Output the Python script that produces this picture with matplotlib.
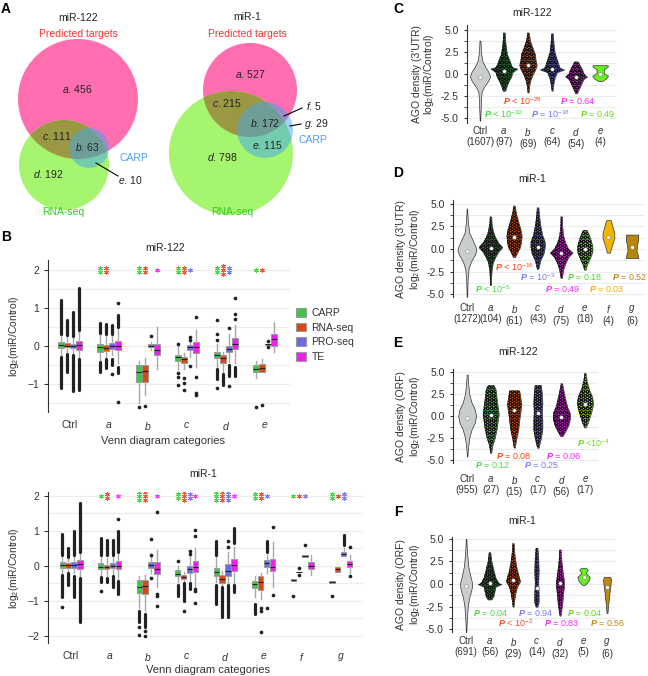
import numpy as np
import matplotlib
matplotlib.use('Agg')
import matplotlib.pyplot as plt
from matplotlib.patches import Circle, Patch

plt.rcParams['font.family'] = ['Liberation Sans', 'DejaVu Sans']
plt.rcParams['mathtext.fontset'] = 'custom'
plt.rcParams['mathtext.rm'] = 'Liberation Sans'
plt.rcParams['mathtext.it'] = 'Liberation Sans:italic'
plt.rcParams['mathtext.bf'] = 'Liberation Sans:bold'
plt.rcParams['mathtext.bfit'] = 'Liberation Sans:bold:italic'
plt.rcParams['hatch.linewidth'] = 0.7

# ---------------- data ----------------
venn122_cats = ['a', 'b', 'c', 'd', 'e']
venn122_counts = [456, 63, 111, 192, 10]
venn1_cats = ['a', 'b', 'c', 'd', 'e', 'f', 'g']
venn1_counts = [527, 172, 215, 798, 115, 5, 29]

series = ['CARP', 'RNA-seq', 'PRO-seq', 'TE']
box_colors = ['#3ec54a', '#d9480f', '#6a6ae8', '#f01ef0']
star_colors = ['#4bd94b', '#f05a3c', '#8080ff', '#ff40ff']

# miR-122 boxplots: rows = Ctrl,a..e ; cols = CARP, RNA-seq, PRO-seq, TE
b122_cats = ['Ctrl', 'a', 'b', 'c', 'd', 'e']
b122_med = [[0.02, 0.01, 0.0, 0.02], [-0.03, -0.05, 0.0, 0.0], [-0.68, -0.65, 0.0, -0.1],
            [-0.3, -0.35, -0.03, -0.03], [-0.23, -0.33, -0.08, 0.05], [-0.6, -0.57, 0.04, 0.17]]
b122_q1 = [[-0.06, -0.04, -0.05, -0.1], [-0.15, -0.13, -0.07, -0.12], [-0.95, -0.95, -0.04, -0.25],
           [-0.4, -0.45, -0.1, -0.2], [-0.32, -0.45, -0.17, -0.08], [-0.7, -0.7, 0.03, 0.0]]
b122_q3 = [[0.1, 0.07, 0.06, 0.12], [0.05, 0.03, 0.07, 0.13], [-0.5, -0.5, 0.05, 0.05],
           [-0.25, -0.28, 0.02, 0.1], [-0.15, -0.25, 0.0, 0.2], [-0.5, -0.47, 0.05, 0.32]]
b122_lo = [[-0.28, -0.18, -0.2, -0.3], [-0.38, -0.3, -0.25, -0.45], [-1.5, -1.3, -0.1, -0.6],
           [-0.6, -0.6, -0.3, -0.55], [-0.55, -0.7, -0.42, -0.45], [-0.85, -0.7, 0.02, -0.17]]
b122_hi = [[0.3, 0.25, 0.22, 0.38], [0.3, 0.28, 0.28, 0.45], [-0.4, -0.32, 0.1, 0.5],
           [0.05, -0.2, 0.2, 0.42], [0.05, -0.15, 0.3, 0.55], [-0.4, -0.35, 0.06, 0.62]]
# outliers: single values, or (low, high) for dense runs of points
b122_out = [
    [[(0.32, 1.22), (-1.12, -0.3)], [(0.28, 0.68), (-0.7, -0.22)], [(0.25, 0.88), (-1.2, -0.25)], [(0.42, 1.52), (-1.17, -0.35)]],
    [[(0.35, 0.6), (-0.42, -0.7)], [(0.32, 0.57), (-0.35, -0.57)], [(0.32, 0.55), (-0.35, -0.5), -0.75], [(0.5, 0.8), 1.13, (-0.55, -0.72), -1.48]],
    [[-1.6], [-1.57], [0.25], []],
    [[0.05, -0.72, -0.82, -1.03], [-0.85, -0.97, -1.15], [0.23, 0.15, -0.52], [0.75, -0.83, -1.25, -1.28]],
    [[0.67, 0.3, 0.15, (-0.62, -0.88), -1.1], [(-0.75, -1.03)], [0.46, (-0.5, -0.78), -1.05], [0.72, 0.85, 1.25, (-0.55, -0.78)]],
    [[-1.6], [-1.55], [0.13, -0.03], []],
]
b122_stars = [[0, 0, 0, 0], [2, 2, 0, 0], [2, 2, 0, 1], [2, 2, 1, 0], [2, 3, 2, 0], [1, 1, 0, 0]]

# miR-1 boxplots
b1_cats = ['Ctrl', 'a', 'b', 'c', 'd', 'e', 'f', 'g']
b1_med = [[0.03, 0.02, 0.02, 0.05], [-0.02, -0.03, 0.0, 0.0], [-0.6, -0.57, 0.02, -0.08], [-0.22, -0.32, -0.1, -0.02],
          [-0.17, -0.38, -0.15, 0.02], [-0.52, -0.47, 0.07, -0.02], [-0.4, -0.17, 0.28, 0.0], [-0.46, -0.1, 0.33, 0.06]]
b1_q1 = [[-0.05, -0.05, -0.05, -0.1], [-0.1, -0.1, -0.05, -0.1], [-0.77, -0.8, -0.05, -0.23], [-0.3, -0.38, -0.2, -0.18],
         [-0.3, -0.48, -0.3, -0.15], [-0.62, -0.68, -0.02, -0.15], [-0.42, -0.18, 0.26, -0.08], [-0.5, -0.17, 0.28, -0.02]]
b1_q3 = [[0.1, 0.07, 0.1, 0.17], [0.07, 0.03, 0.07, 0.13], [-0.4, -0.4, 0.1, 0.1], [-0.13, -0.25, 0.0, 0.13],
         [-0.05, -0.27, 0.05, 0.2], [-0.42, -0.3, 0.17, 0.2], [-0.38, -0.16, 0.3, 0.1], [-0.42, -0.03, 0.4, 0.15]]
b1_lo = [[-0.22, -0.15, -0.2, -0.3], [-0.28, -0.3, -0.25, -0.38], [-1.2, -1.3, -0.2, -0.6], [-0.45, -0.48, -0.45, -0.6],
         [-0.45, -0.58, -0.5, -0.5], [-0.9, -0.95, -0.2, -0.6], [-0.42, -0.18, 0.26, -0.25], [-0.5, -0.17, 0.28, -0.2]]
b1_hi = [[0.28, 0.2, 0.25, 0.35], [0.28, 0.22, 0.25, 0.35], [-0.3, -0.25, 0.25, 0.45], [0.0, -0.18, 0.3, 0.5],
         [0.25, -0.15, 0.4, 0.55], [-0.3, -0.2, 0.3, 0.68], [-0.38, -0.16, 0.3, 0.3], [-0.42, -0.03, 0.5, 0.3]]
b1_out = [
    [[(0.3, 0.9), (-0.25, -0.9), -1.18], [(0.25, 0.52), (-0.2, -0.55)], [(0.3, 1.0), (-0.3, -0.9)], [(0.4, 1.8), (-0.35, -1.6)]],
    [[(0.3, 0.8), (-0.32, -0.45), -0.72], [(0.3, 0.75), (-0.35, -0.47)], [(0.3, 0.73), (-0.3, -0.6)], [(0.4, 1.0), 1.35, (-0.42, -0.8)]],
    [[(-1.3, -1.6), -1.75, -1.97], [(-1.38, -1.75), -1.85, -2.0], [0.32, 0.77, -0.35], [1.53, -0.8, -0.85, -1.15]],
    [[0.15, (-0.55, -0.85)], [(-0.5, -1.0), -1.28], [0.35, 0.42, (-0.5, -0.65)], [1.03, 0.85, -0.65, -0.72, -1.07]],
    [[(0.3, 0.7), (-0.55, -1.1)], [(-0.6, -1.45)], [0.55, 0.72, (-0.55, -1.45)], [(0.65, 1.08), (-0.55, -0.75)]],
    [[(-1.1, -1.38)], [-1.2, -1.3, -1.9], [(0.4, 0.7), -1.2], [1.12, -0.83]],
    [[-0.85], [-0.05, -0.27], [0.6], []],
    [[-0.86], [], [(0.6, 0.88)], [0.54, -0.28]],
]
b1_stars = [[0, 0, 0, 0], [1, 2, 0, 1], [3, 3, 0, 1], [2, 3, 2, 1], [3, 3, 3, 1], [2, 2, 1, 0], [1, 1, 1, 0], [2, 1, 2, 0]]

# violin panels: outline profile (y, half width) per category, median point
c_cats = ['Ctrl', 'a', 'b', 'c', 'd', 'e']
c_n = [1607, 97, 69, 64, 54, 4]
c_med = [-0.3, 0.3, 1.0, 0.6, -0.3, 0.0]
c_py = [[3.8, 2.5, 1.5, 0.8, 0.2, -0.3, -0.8, -1.4, -2.0, -3.0, -4.0, -5.3],
        [4.7, 3.8, 3.0, 2.2, 1.6, 1.0, 0.75, 0.6, 0.2, -0.3, -0.8, -1.3, -1.9],
        [4.7, 3.8, 3.0, 2.3, 1.5, 1.0, 0.5, 0.0, -0.7, -1.3, -2.1],
        [4.6, 3.5, 2.5, 1.8, 1.2, 0.7, 0.5, 0.2, -0.5, -1.2, -1.9],
        [1.4, 1.0, 0.5, 0.0, -0.3, -0.6, -1.2, -1.8, -2.2],
        [1.0, 0.9, 0.5, 0.1, -0.2, -0.5, -0.8]]
c_pw = [[0.02, 0.04, 0.1, 0.22, 0.36, 0.42, 0.34, 0.18, 0.07, 0.04, 0.03, 0.01],
        [0.03, 0.05, 0.08, 0.13, 0.22, 0.3, 0.35, 0.55, 0.35, 0.3, 0.2, 0.12, 0.05],
        [0.03, 0.08, 0.18, 0.28, 0.32, 0.36, 0.3, 0.2, 0.1, 0.05, 0.02],
        [0.03, 0.06, 0.1, 0.18, 0.25, 0.32, 0.5, 0.2, 0.1, 0.05, 0.02],
        [0.08, 0.15, 0.25, 0.32, 0.45, 0.3, 0.2, 0.1, 0.03],
        [0.3, 0.33, 0.15, 0.15, 0.33, 0.25, 0.08]]
c_colors = ['#c9cdcd', '#1f7a2a', '#d2450f', '#5858dc', '#d81ad8', '#66f01e']

d_cats = ['Ctrl', 'a', 'b', 'c', 'd', 'e', 'f', 'g']
d_n = [1272, 104, 61, 43, 75, 18, 4, 6]
d_med = [-0.2, 0.1, 1.3, 0.2, -0.4, 0.0, 1.3, 0.2]
d_py = [[4.5, 3.0, 1.8, 1.0, 0.3, -0.2, -0.7, -1.4, -2.2, -3.5, -5.3],
        [3.6, 2.8, 2.0, 1.3, 0.7, 0.2, -0.3, -0.9, -1.5, -2.3, -3.0, -4.0],
        [4.8, 4.0, 3.0, 2.2, 1.5, 0.8, 0.2, -0.4, -0.9],
        [4.6, 3.5, 2.5, 1.5, 0.8, 0.2, -0.5, -1.2, -2.2],
        [3.6, 2.5, 1.5, 0.7, 0.0, -0.4, -0.9, -1.6, -2.3, -3.2],
        [2.1, 1.6, 1.0, 0.3, -0.3, -0.8, -1.3, -1.8, -2.3],
        [3.2, 2.5, 1.8, 1.2, 0.6, 0.0, -0.4],
        [1.6, 1.0, 0.4, -0.2, -0.6, -1.0]]
d_pw = [[0.01, 0.04, 0.1, 0.24, 0.36, 0.4, 0.32, 0.17, 0.07, 0.03, 0.01],
        [0.03, 0.05, 0.1, 0.2, 0.33, 0.5, 0.33, 0.2, 0.1, 0.05, 0.03, 0.02],
        [0.03, 0.08, 0.18, 0.27, 0.32, 0.3, 0.25, 0.13, 0.04],
        [0.03, 0.07, 0.12, 0.2, 0.3, 0.3, 0.25, 0.12, 0.03],
        [0.03, 0.04, 0.08, 0.17, 0.3, 0.48, 0.3, 0.17, 0.08, 0.03],
        [0.08, 0.17, 0.25, 0.32, 0.32, 0.25, 0.17, 0.08, 0.03],
        [0.1, 0.17, 0.25, 0.25, 0.17, 0.1, 0.07],
        [0.26, 0.26, 0.21, 0.19, 0.24, 0.26]]
d_colors = ['#c9cdcd', '#1f7a2a', '#d2450f', '#5858dc', '#d81ad8', '#55dd22', '#f2b400', '#b8860b']

e_cats = ['Ctrl', 'a', 'b', 'c', 'd', 'e']
e_n = [955, 27, 15, 17, 56, 17]
e_med = [-0.2, 0.1, 0.7, 0.3, -0.1, 1.4]
e_py = [[4.7, 3.5, 2.5, 1.5, 0.8, 0.0, -0.8, -1.5, -2.5, -3.5, -4.6],
        [3.5, 3.0, 2.0, 1.0, 0.2, -0.5, -1.5, -2.5, -3.3, -4.2],
        [2.9, 2.3, 1.3, 0.3, -0.5, -1.5, -2.5, -3.6],
        [3.5, 2.5, 1.5, 0.5, -0.5, -1.5, -2.5, -3.6],
        [3.7, 2.8, 1.8, 1.0, 0.3, -0.3, -1.0, -1.7, -2.3],
        [4.9, 4.0, 3.0, 2.2, 1.5, 0.8, 0.0, -0.7, -1.3]]
e_pw = [[0.02, 0.05, 0.09, 0.19, 0.32, 0.38, 0.32, 0.19, 0.09, 0.04, 0.01],
        [0.13, 0.21, 0.25, 0.3, 0.34, 0.3, 0.25, 0.17, 0.07, 0.02],
        [0.21, 0.25, 0.3, 0.25, 0.21, 0.17, 0.09, 0.02],
        [0.13, 0.17, 0.19, 0.17, 0.19, 0.19, 0.13, 0.03],
        [0.03, 0.09, 0.17, 0.25, 0.36, 0.36, 0.3, 0.17, 0.04],
        [0.02, 0.07, 0.17, 0.3, 0.34, 0.3, 0.21, 0.13, 0.03]]
e_colors = ['#c9cdcd', '#36c236', '#dd4a12', '#6464e6', '#d81ad8', '#6fd81a']

f_cats = ['Ctrl', 'a', 'b', 'c', 'd', 'e', 'g']
f_n = [691, 56, 29, 14, 32, 5, 6]
f_med = [-0.2, 0.1, 0.4, -0.4, 0.1, 0.8, -0.3]
f_py = [[5.0, 3.5, 2.0, 1.0, 0.3, -0.2, -0.8, -1.5, -2.5, -4.0, -5.3],
        [3.5, 2.5, 1.5, 0.7, 0.1, 0.0, -0.3, -0.8, -1.3, -1.7],
        [4.5, 3.5, 2.5, 1.5, 0.8, 0.3, -0.3, -1.0, -1.8, -2.5],
        [4.0, 3.0, 1.5, 0.0, -1.0, -2.0, -2.5],
        [3.8, 2.8, 1.8, 1.0, 0.3, -0.3, -1.0, -2.0, -3.0, -3.5],
        [1.8, 1.6, 1.2, 0.8, 0.4, 0.0, -0.1],
        [0.8, 0.5, 0.0, -0.5, -1.0, -1.8, -2.5, -3.2]]
f_pw = [[0.01, 0.04, 0.09, 0.17, 0.24, 0.26, 0.21, 0.13, 0.07, 0.03, 0.01],
        [0.03, 0.08, 0.17, 0.25, 0.38, 0.5, 0.25, 0.21, 0.17, 0.08],
        [0.03, 0.05, 0.1, 0.17, 0.25, 0.3, 0.17, 0.1, 0.05, 0.02],
        [0.04, 0.07, 0.09, 0.07, 0.09, 0.09, 0.04],
        [0.03, 0.05, 0.09, 0.13, 0.17, 0.17, 0.13, 0.1, 0.05, 0.02],
        [0.1, 0.18, 0.09, 0.26, 0.22, 0.09, 0.04],
        [0.13, 0.17, 0.15, 0.13, 0.1, 0.07, 0.04, 0.02]]
f_colors = ['#c9cdcd', '#1f7a2a', '#d2450f', '#5858dc', '#d81ad8', '#66f01e', '#c08a10']

# ---------------- figure ----------------
W, H = 648, 676
fig = plt.figure(figsize=(W / 100, H / 100), dpi=100)


def rect(x0, y0, x1, y1):
    return [x0 / W, 1 - y1 / H, (x1 - x0) / W, (y1 - y0) / H]


def ft(x, y, s, **kw):
    kw.setdefault('ha', 'center')
    kw.setdefault('va', 'center')
    fig.text(x / W, 1 - y / H, s, **kw)


# ---- panel A: Venn diagrams ----
va = fig.add_axes(rect(0, 0, 330, 230))
va.set_xlim(0, 330)
va.set_ylim(230, 0)
va.axis('off')
pink, green, olive, blue = '#ff6eaf', '#a5f56e', '#9a9842', '#45a5f0'
for pc, gc, bc in [((78, 99, 60), (64, 165, 45), (89, 148, 20)), ((250, 90, 47), (231, 153, 62), (265, 130, 28))]:
    pcirc = Circle(pc[:2], pc[2], facecolor=pink, edgecolor='none')
    va.add_patch(pcirc)
    va.add_patch(Circle(gc[:2], gc[2], facecolor=green, edgecolor='none'))
    over = Circle(gc[:2], gc[2], facecolor=olive, edgecolor='none')
    va.add_patch(over)
    over.set_clip_path(pcirc)
    va.add_patch(Circle(bc[:2], bc[2], facecolor=blue, alpha=0.5, edgecolor='none'))

pos122 = [(77, 89), (87, 147), (57, 136), (48, 174), (130, 180)]
for cat, n, (x, y) in zip(venn122_cats, venn122_counts, pos122):
    va.text(x, y, r'$\it{%s}$. %d' % (cat, n), ha='center', va='center', fontsize=7.5, color='#222222')
va.plot([96, 118], [163, 176], color='black', lw=0.8)
pos1 = [(250, 74), (265, 123), (227, 103), (222, 157), (267, 145), (314, 106), (316, 124)]
for cat, n, (x, y) in zip(venn1_cats, venn1_counts, pos1):
    va.text(x, y, r'$\it{%s}$. %d' % (cat, n), ha='center', va='center', fontsize=7.5, color='#222222')
va.plot([284, 302], [116, 108], color='black', lw=0.8)
va.plot([290, 301], [126, 124], color='black', lw=0.8)

ft(6, 9, 'A', fontsize=10, fontweight='bold')
ft(78, 18, 'miR-122', fontsize=7.5, color='#222222')
ft(78, 34, 'Predicted targets', fontsize=7.5, color='#ff3030')
ft(134, 158, 'CARP', fontsize=7.5, color='#4a9ff0')
ft(63, 212, 'RNA-seq', fontsize=7.5, color='#33cc22')
ft(247, 17, 'miR-1', fontsize=7.5, color='#222222')
ft(247, 34, 'Predicted targets', fontsize=7.5, color='#ff3030')
ft(313, 140, 'CARP', fontsize=7.5, color='#4a9ff0')
ft(232, 212, 'RNA-seq', fontsize=7.5, color='#33cc22')

# ---- panel B: boxplots ----
offsets = [-0.23, -0.077, 0.077, 0.23]


def box_panel(ax, cats, q1, med, q3, lo, hi, out, stars):
    ncat = len(cats)
    for j in range(4):
        stats = [dict(med=med[i][j], q1=q1[i][j], q3=q3[i][j], whislo=lo[i][j], whishi=hi[i][j], fliers=[])
                 for i in range(ncat)]
        pos = np.arange(1, ncat + 1) + offsets[j]
        ax.bxp(stats, positions=pos, widths=0.14, patch_artist=True, showfliers=False, showcaps=False,
               boxprops=dict(facecolor=box_colors[j], edgecolor='#9a9a9a', lw=0.7),
               medianprops=dict(color='#202020', lw=0.8),
               whiskerprops=dict(color='#a8a8a8', lw=1.0), manage_ticks=False)
        for i in range(ncat):
            for f in out[i][j]:
                if isinstance(f, tuple):
                    ax.plot([pos[i], pos[i]], f, color='#222222', lw=2.3, solid_capstyle='round', zorder=3)
                else:
                    ax.scatter(pos[i], f, s=7, color='#222222', lw=0, zorder=3)
            n = stars[i][j]
            if n:
                ys = 2 + (np.arange(n) - (n - 1) / 2) * 0.11
                ax.scatter([pos[i]] * n, ys, marker=(6, 2, 0), s=10, color=star_colors[j], lw=0.6, zorder=3)
    ax.set_xticks(np.arange(1, ncat + 1))
    ax.set_xticklabels([c if c == 'Ctrl' else r'$\it{%s}$' % c for c in cats], fontsize=7.5, color='#333333')
    ax.tick_params(axis='x', length=0, pad=6)
    ax.tick_params(axis='y', labelsize=7.5, labelcolor='#333333', length=3, color='#333333')
    ax.set_yticks([-2, -1, 0, 1, 2])
    ax.set_yticks([-1.5, -0.5, 0.5, 1.5], minor=True)
    ax.tick_params(axis='y', which='minor', length=0)
    ax.grid(axis='y', which='both', color='#ececec', lw=0.8)
    ax.set_axisbelow(True)
    for s in ['top', 'right', 'bottom']:
        ax.spines[s].set_visible(False)
    ax.spines['left'].set_color('#333333')
    ax.spines['left'].set_linewidth(0.8)


ax1 = fig.add_axes(rect(48, 260, 290, 412))
box_panel(ax1, b122_cats, b122_q1, b122_med, b122_q3, b122_lo, b122_hi, b122_out, b122_stars)
ax1.set_xlim(0.44, 6.64)
ax1.set_ylim(-1.74, 2.26)

ax2 = fig.add_axes(rect(48, 492, 363, 643))
box_panel(ax2, b1_cats, b1_q1, b1_med, b1_q3, b1_lo, b1_hi, b1_out, b1_stars)
ax2.set_xlim(0.40, 8.58)
ax2.set_ylim(-2.2, 2.11)

ft(6, 237, 'B', fontsize=10, fontweight='bold')
ft(165, 248, 'miR-122', fontsize=7.5, color='#222222')
ft(163, 441, 'Venn diagram categories', fontsize=8, color='#333333')
ft(14, 336, r'log$_2$(miR/Control)', fontsize=7.5, rotation=90, color='#333333')
ft(203, 474, 'miR-1', fontsize=7.5, color='#222222')
ft(208, 670, 'Venn diagram categories', fontsize=8, color='#333333')
ft(14, 568, r'log$_2$(miR/Control)', fontsize=7.5, rotation=90, color='#333333')

handles = [Patch(facecolor=c, edgecolor='#9a9a9a', lw=0.8) for c in box_colors]
fig.legend(handles, series, loc='upper left', bbox_to_anchor=(296 / W, 1 - 308 / H), frameon=False,
           fontsize=7.5, handlelength=1.0, handleheight=0.9, handletextpad=0.5, labelspacing=0.45,
           borderaxespad=0, borderpad=0, labelcolor='#333333')


# ---- panels C-F: violins ----
def violin_panel(ax, cats, ns, meds, py, pw, colors, pad):
    for i in range(len(cats)):
        x = i + 1
        ys = np.array(py[i])
        ws = np.array(pw[i])
        ax.fill_betweenx(ys, x - ws, x + ws, facecolor=colors[i], edgecolor='#333333', lw=0.5, zorder=2)
        if i > 0 and ns[i] > 10:
            ax.fill_betweenx(ys, x - ws, x + ws, facecolor='none', edgecolor='#151515', hatch='OOOO', lw=0,
                             zorder=3)
        ax.scatter(x, meds[i], s=7, color='white', edgecolors='#666666', lw=0.3, zorder=4)
    ax.set_xticks(np.arange(1, len(cats) + 1))
    ax.set_xticklabels([(c if c == 'Ctrl' else r'$\it{%s}$' % c) + '\n(%d)' % n for c, n in zip(cats, ns)],
                       fontsize=7, color='#333333', linespacing=1.15)
    ax.tick_params(axis='x', length=0, pad=pad)
    ax.set_yticks([-5, -2.5, 0, 2.5, 5])
    ax.set_yticklabels(['-5.0', '-2.5', '0.0', '2.5', '5.0'])
    ax.set_yticks([-3.75, -1.25, 1.25, 3.75], minor=True)
    ax.tick_params(axis='y', which='both', labelsize=7.5, labelcolor='#333333', length=2.5, color='#333333')
    ax.grid(axis='y', which='both', color='#ececec', lw=0.8)
    ax.set_axisbelow(True)
    for s in ['top', 'right', 'bottom']:
        ax.spines[s].set_visible(False)
    ax.spines['left'].set_color('#333333')
    ax.spines['left'].set_linewidth(0.8)


def pval(ax, x, y, txt, col):
    ax.text(x, y, r'$\mathbfit{P}$' + txt, color=col, fontsize=6.5, ha='center', va='center')


axc = fig.add_axes(rect(467, 25, 617, 123))
violin_panel(axc, c_cats, c_n, c_med, c_py, c_pw, c_colors, 2)
axc.set_xlim(0.46, 6.7)
axc.set_ylim(-5.57, 5.57)
pval(axc, 2.75, -3.07, r' < 10$^{-28}$', '#ff4422')
pval(axc, 5.08, -3.07, ' = 0.64', '#ff22ff')
pval(axc, 1.96, -4.55, r' < 10$^{-10}$', '#33dd33')
pval(axc, 3.92, -4.55, r' = 10$^{-18}$', '#7777ff')
pval(axc, 5.88, -4.55, ' = 0.49', '#66dd11')

axd = fig.add_axes(rect(453, 200, 645, 297))
violin_panel(axd, d_cats, d_n, d_med, d_py, d_pw, d_colors, 4)
axd.set_xlim(0.41, 8.55)
axd.set_ylim(-5.33, 5.44)
pval(axd, 3.03, -2.0, r' < 10$^{-16}$', '#ff4422')
pval(axd, 4.0, -3.1, r' = 10$^{-3}$', '#7777ff')
pval(axd, 6.0, -3.1, ' = 0.18', '#44dd22')
pval(axd, 7.9, -3.1, ' = 0.52', '#b8860b')
pval(axd, 2.1, -4.45, r' < 10$^{-5}$', '#44dd44')
pval(axd, 5.07, -4.45, ' = 0.49', '#ff22ff')
pval(axd, 6.93, -4.45, ' = 0.03', '#ffaa00')

axe = fig.add_axes(rect(453, 369, 598, 463))
violin_panel(axe, e_cats, e_n, e_med, e_py, e_pw, e_colors, 8)
axe.set_xlim(0.40, 6.55)
axe.set_ylim(-5.34, 5.34)
pval(axe, 6.36, -3.07, r' <10$^{-4}$', '#66dd11')
pval(axe, 2.96, -4.55, ' = 0.08', '#ff4422')
pval(axe, 5.09, -4.55, ' = 0.06', '#ff22ff')
pval(axe, 2.1, -5.57, ' = 0.12', '#44dd44')
pval(axe, 4.15, -5.57, ' = 0.25', '#7777ff')

axf = fig.add_axes(rect(452, 537, 615, 632))
violin_panel(axf, f_cats, f_n, f_med, f_py, f_pw, f_colors, 3)
axf.set_xlim(0.40, 7.34)
axf.set_ylim(-5.3, 5.2)
pval(axf, 2.06, -3.2, ' = 0.04', '#44dd44')
pval(axf, 3.98, -3.2, ' = 0.94', '#7777ff')
pval(axf, 6.06, -3.2, ' = 0.04', '#66dd11')
pval(axf, 3.09, -4.33, r' < 10$^{-2}$', '#ff4422')
pval(axf, 5.09, -4.33, ' = 0.83', '#ff22ff')
pval(axf, 7.04, -4.33, ' = 0.56', '#c08a10')

ft(398, 9, 'C', fontsize=10, fontweight='bold')
ft(532, 13, 'miR-122', fontsize=7.5, color='#222222')
ft(424, 74, "AGO density (3'UTR)\nlog$_2$(miR/Control)", fontsize=7.5, rotation=90, color='#333333',
   linespacing=1.1)
ft(398, 173, 'D', fontsize=10, fontweight='bold')
ft(532, 179, 'miR-1', fontsize=7.5, color='#222222')
ft(409, 249, "AGO density (3'UTR)\nlog$_2$(miR/Control)", fontsize=7.5, rotation=90, color='#333333',
   linespacing=1.1)
ft(398, 343, 'E', fontsize=10, fontweight='bold')
ft(518, 352, 'miR-122', fontsize=7.5, color='#222222')
ft(409, 416, "AGO density (ORF)\nlog$_2$(miR/Control)", fontsize=7.5, rotation=90, color='#333333',
   linespacing=1.1)
ft(398, 512, 'F', fontsize=10, fontweight='bold')
ft(522, 521, 'miR-1', fontsize=7.5, color='#222222')
ft(409, 584, "AGO density (ORF)\nlog$_2$(miR/Control)", fontsize=7.5, rotation=90, color='#333333',
   linespacing=1.1)

fig.savefig('out.png', dpi=100)
